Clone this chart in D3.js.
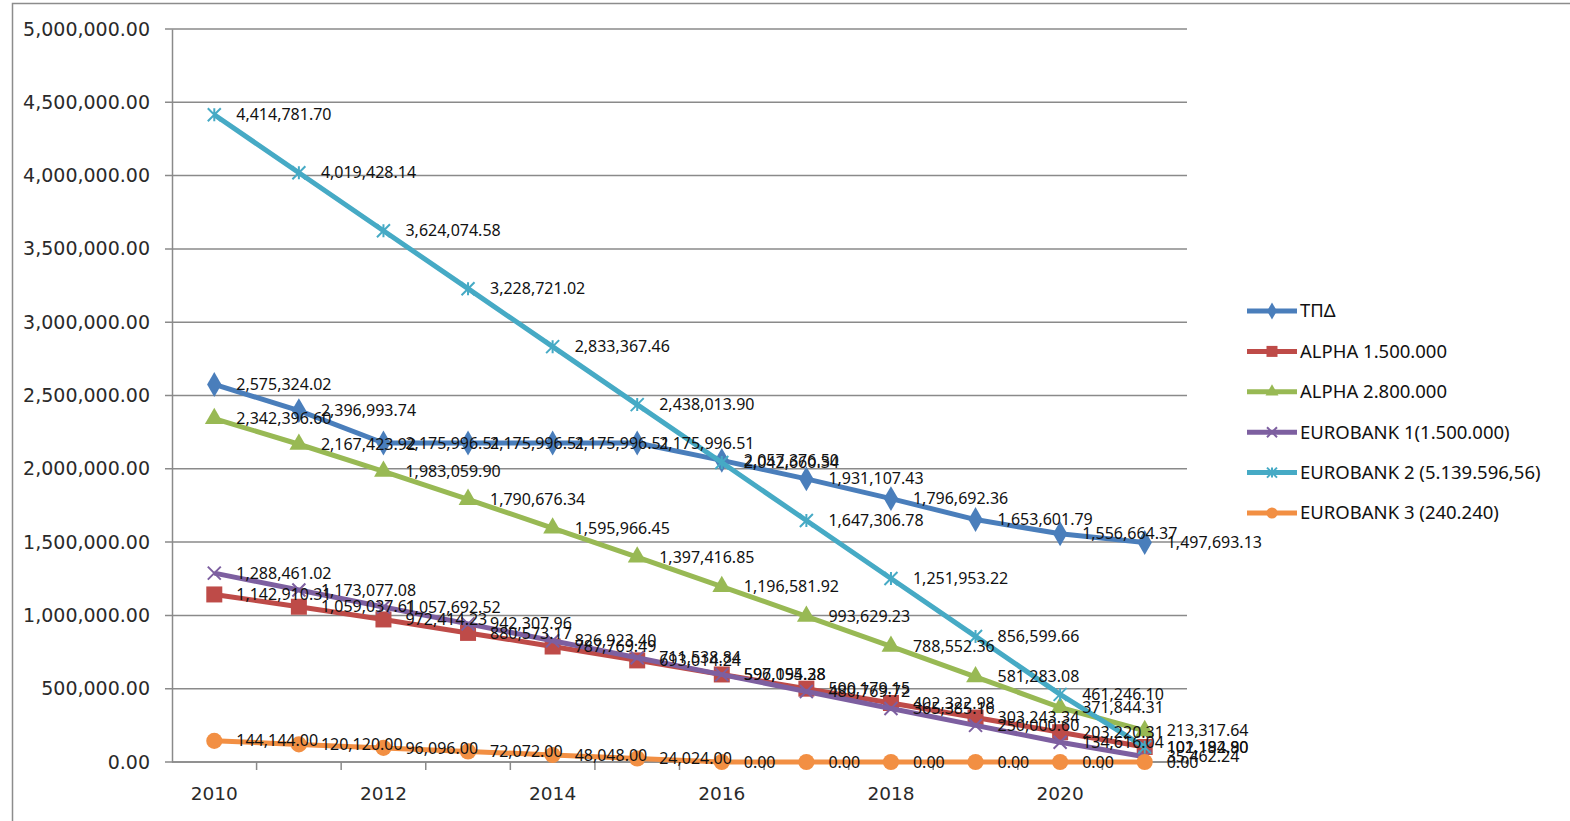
<!DOCTYPE html>
<html>
  <head>
    <meta charset="utf-8" />
    <title>Chart</title>
    <style>
      body { margin: 0; background: #fff; }
    </style>
  </head>
  <body>
  <div id="container"></div>
  <script src="https://cdn.jsdelivr.net/npm/d3@7"></script>
  <script type="text/javascript">

    // categories (years)
    var years = [2010, 2011, 2012, 2013, 2014, 2015, 2016, 2017, 2018, 2019, 2020, 2021];
    var yTicks = [0, 500000, 1000000, 1500000, 2000000, 2500000, 3000000, 3500000, 4000000, 4500000, 5000000];
    var xLabelYears = [2010, 2012, 2014, 2016, 2018, 2020];

    // series values
    var tpd = [2575324.02, 2396993.74, 2175996.51, 2175996.51, 2175996.51, 2175996.51, 2057376.50, 1931107.43, 1796692.36, 1653601.79, 1556664.37, 1497693.13];
    var alpha15 = [1142910.31, 1059037.61, 972414.23, 880573.17, 787769.49, 693014.24, 597095.38, 500179.15, 402322.98, 303243.34, 203220.31, 102192.90];
    var alpha28 = [2342396.60, 2167423.92, 1983059.90, 1790676.34, 1595966.45, 1397416.85, 1196581.92, 993629.23, 788552.36, 581283.08, 371844.31, 213317.64];
    var euro1 = [1288461.02, 1173077.08, 1057692.52, 942307.96, 826923.40, 711538.84, 596154.28, 480769.72, 365385.16, 250000.60, 134616.04, 35462.24];
    var euro2 = [4414781.70, 4019428.14, 3624074.58, 3228721.02, 2833367.46, 2438013.90, 2042660.34, 1647306.78, 1251953.22, 856599.66, 461246.10, 101184.80];
    var euro3 = [144144.00, 120120.00, 96096.00, 72072.00, 48048.00, 24024.00, 0, 0, 0, 0, 0, 0];

    var seriesNames = ["ΤΠΔ", "ALPHA 1.500.000", "ALPHA 2.800.000", "EUROBANK 1(1.500.000)", "EUROBANK 2 (5.139.596,56)", "EUROBANK 3 (240.240)"];
    var seriesValues = [tpd, alpha15, alpha28, euro1, euro2, euro3];
    var seriesColors = ["#4A7EBB", "#BE4B48", "#98B954", "#7D5FA0", "#46AAC5", "#F28F43"];
    var seriesMarkers = ["diamond", "square", "triangle", "x", "star", "circle"];

    var width = 1570;
    var height = 821;
    var plotLeft = 172, plotRight = 1187, plotTop = 29, plotBottom = 762;
    var labelFont = '"Noto Sans", sans-serif';
    var axisFont = '"DejaVu Sans", sans-serif';

    var svg = d3.select('#container').append('svg').attr('width', width).attr('height', height);

    // outer chart frame
    svg.append('rect').attr('x', 12.5).attr('y', 3.5).attr('width', 1600).attr('height', 900)
      .attr('fill', 'none').attr('stroke', '#8c8c8c').attr('stroke-width', 1.5);

    var x = d3.scaleBand().domain(years).range([plotLeft, plotRight]);
    var y = d3.scaleLinear().domain([0, 5000000]).range([plotBottom, plotTop]);
    var cx = function(yr){ return x(yr) + x.bandwidth() / 2; };

    // gridlines
    svg.append('g').selectAll('line').data(yTicks).enter().append('line')
      .attr('x1', plotLeft - 7).attr('x2', plotRight)
      .attr('y1', function(d){ return y(d); }).attr('y2', function(d){ return y(d); })
      .attr('stroke', '#8a8a8a').attr('stroke-width', 1.5);

    // y axis
    var yAxis = d3.axisLeft(y).tickValues(yTicks).tickSize(0).tickPadding(22)
      .tickFormat(d3.format(',.2f'));
    var gy = svg.append('g').attr('transform', 'translate(' + plotLeft + ',0)').call(yAxis);
    gy.attr('font-family', axisFont).attr('font-size', 19);
    gy.select('.domain').attr('stroke', '#8a8a8a').attr('stroke-width', 1.5);
    gy.selectAll('text').attr('fill', '#2a2a2a');

    // x axis: ticks at category boundaries
    var gx = svg.append('g').attr('transform', 'translate(0,' + plotBottom + ')');
    gx.append('line').attr('x1', plotLeft).attr('x2', plotRight).attr('stroke', '#8a8a8a').attr('stroke-width', 1.5);
    gx.selectAll('.tk').data(years.slice(1)).enter().append('line')
      .attr('x1', function(d){ return x(d); }).attr('x2', function(d){ return x(d); })
      .attr('y1', 0).attr('y2', 8).attr('stroke', '#8a8a8a').attr('stroke-width', 1.5);
    gx.selectAll('text').data(xLabelYears).enter().append('text')
      .attr('x', function(d){ return cx(d); }).attr('y', 38)
      .attr('text-anchor', 'middle').attr('font-family', axisFont)
      .attr('font-size', 18.5).attr('fill', '#2a2a2a').text(function(d){ return d; });

    var markerPath = function(type, s){
      if (type === 'diamond') return d3.symbol(d3.symbolDiamond, s * s * 0.7)();
      if (type === 'square') return d3.symbol(d3.symbolSquare, s * s)();
      if (type === 'triangle') return d3.symbol(d3.symbolTriangle, s * s * 0.6)();
      if (type === 'circle') return d3.symbol(d3.symbolCircle, s * s * 0.8)();
      var h = s / 2;
      if (type === 'x') return 'M' + (-h) + ',' + (-h) + 'L' + h + ',' + h + 'M' + (-h) + ',' + h + 'L' + h + ',' + (-h);
      // star (asterisk)
      return 'M' + (-h) + ',' + (-h) + 'L' + h + ',' + h + 'M' + (-h) + ',' + h + 'L' + h + ',' + (-h) + 'M0,' + (-h) + 'L0,' + h;
    };

    var line = d3.line().x(function(d, i){ return cx(years[i]); }).y(function(d){ return y(d); });

    // lines + markers
    seriesValues.forEach(function(vals, k){
      var g = svg.append('g');
      g.append('path').datum(vals).attr('d', line).attr('fill', 'none')
        .attr('stroke', seriesColors[k]).attr('stroke-width', 5).attr('stroke-linejoin', 'round');
      var open = seriesMarkers[k] === 'x' || seriesMarkers[k] === 'star';
      g.selectAll('path.m').data(vals).enter().append('path').attr('class', 'm')
        .attr('transform', function(d, i){ return 'translate(' + cx(years[i]) + ',' + y(d) + ')'; })
        .attr('d', markerPath(seriesMarkers[k], open ? 13 : 16))
        .attr('fill', open ? 'none' : seriesColors[k])
        .attr('stroke', seriesColors[k]).attr('stroke-width', open ? 2 : 0);
    });

    // data labels
    seriesValues.forEach(function(vals, k){
      svg.append('g').attr('font-family', labelFont).selectAll('text').data(vals).enter().append('text')
        .attr('x', function(d, i){ return cx(years[i]) + 22; })
        .attr('y', function(d){ return y(d); })
        .attr('dy', '0.35em').attr('font-size', 16).attr('fill', '#111')
        .text(function(d){ return d3.format(',.2f')(d); });
    });

    // legend
    var legend = svg.append('g').attr('transform', 'translate(1247,311)').attr('font-family', labelFont);
    seriesNames.forEach(function(name, k){
      var row = legend.append('g').attr('transform', 'translate(0,' + (k * 40.4) + ')');
      row.append('line').attr('x1', 0).attr('x2', 50).attr('stroke', seriesColors[k]).attr('stroke-width', 5);
      var open = seriesMarkers[k] === 'x' || seriesMarkers[k] === 'star';
      row.append('path').attr('transform', 'translate(25,0)')
        .attr('d', markerPath(seriesMarkers[k], open ? 10 : 11))
        .attr('fill', open ? 'none' : seriesColors[k])
        .attr('stroke', seriesColors[k]).attr('stroke-width', open ? 2 : 0);
      row.append('text').attr('x', 53).attr('dy', '0.35em').attr('font-size', 18.5).attr('fill', '#111').text(name);
    });

  </script>
  </body>
</html>
